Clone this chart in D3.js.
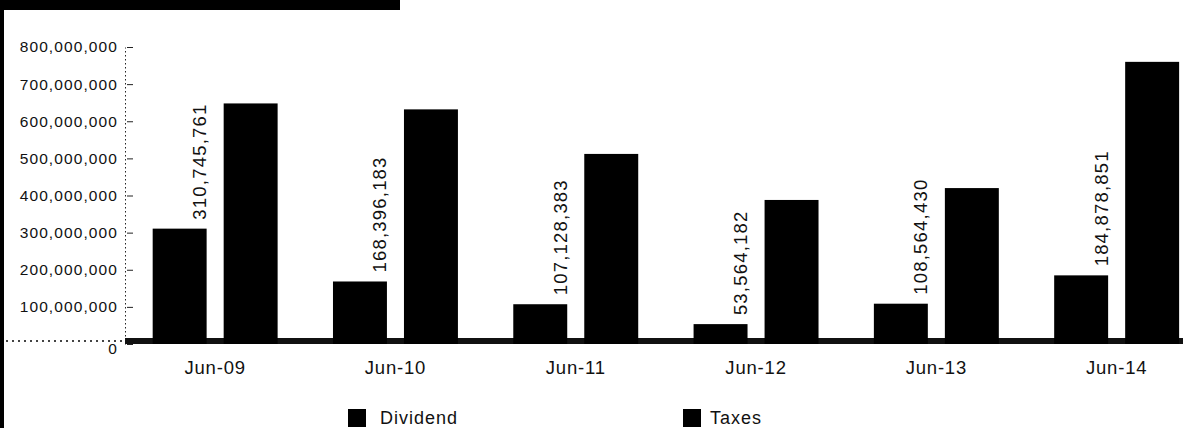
<!DOCTYPE html>
<html>
<head>
<meta charset="utf-8">
<script src="https://cdn.jsdelivr.net/npm/d3@7"></script>
<style>
  body { margin: 0; background: #fff; }
  svg { display: block; font-family: "Liberation Sans", Arial, sans-serif; }
</style>
</head>
<body>
<svg></svg>
<script>
var categories = ["Jun-09", "Jun-10", "Jun-11", "Jun-12", "Jun-13", "Jun-14"]
var series = ["Dividend", "Taxes"]
var dividend = [310745761, 168396183, 107128383, 53564182, 108564430, 184878851]
var taxes = [648000000, 632000000, 512000000, 388000000, 420000000, 760000000]
var yTicks = [0, 100000000, 200000000, 300000000, 400000000, 500000000, 600000000, 700000000, 800000000]

var screen = {width: 1183, height: 428}
var baseY = 344

var svg = d3.select("svg")
  .attr("width", screen.width)
  .attr("height", screen.height)

// scan frame bits
svg.append("rect").attr("x", 0).attr("y", 0).attr("width", 400).attr("height", 10).attr("fill", "#000")
svg.append("rect").attr("x", 0).attr("y", 0).attr("width", 4).attr("height", screen.height).attr("fill", "#000")

var x0 = d3.scaleBand()
  .domain(categories)
  .range([125, 125 + 6 * 180.3])
  .paddingInner(0.307)
  .paddingOuter(0.1535)

var x1 = d3.scaleBand()
  .domain(series)
  .range([0, x0.bandwidth()])
  .paddingInner(0.24)

var y = d3.scaleLinear()
  .domain([0, 800000000])
  .range([baseY, 47])

var fmt = d3.format(",")

// y axis, ticks pointing into the plot
var yAxis = svg.append("g")
  .attr("transform", "translate(125,0)")
  .call(d3.axisLeft(y).tickValues(yTicks).tickFormat(fmt).tickSizeInner(-8).tickSizeOuter(0).tickPadding(7))
yAxis.select(".domain").attr("stroke", "#222").attr("stroke-dasharray", "1.5,2.5")
yAxis.selectAll(".tick line").attr("stroke", "#222").attr("x1", 2)
yAxis.selectAll(".tick text")
  .attr("fill", "#111")
  .style("font-size", "15.5px")
  .style("letter-spacing", "1.1px")
yAxis.selectAll(".tick text").filter(function(d) { return d == 0 }).attr("dy", "0.6em")

// baseline band
svg.append("line")
  .attr("x1", 6).attr("x2", 125).attr("y1", baseY - 3).attr("y2", baseY - 3)
  .attr("stroke", "#444").attr("stroke-width", 2).attr("stroke-dasharray", "2,4")
svg.append("rect")
  .attr("x", 125).attr("y", baseY - 6)
  .attr("width", screen.width - 125).attr("height", 6)
  .attr("fill", "#111")

var rows = categories.map(function(c, i) {
  return {cat: c, vals: [{key: "Dividend", v: dividend[i]}, {key: "Taxes", v: taxes[i]}]}
})

var groups = svg.append("g").selectAll("g")
  .data(rows)
  .enter()
  .append("g")
  .attr("transform", function(d) { return "translate(" + x0(d.cat) + ",0)" })

groups.selectAll("rect")
  .data(function(d) { return d.vals })
  .enter()
  .append("rect")
  .attr("x", function(d) { return x1(d.key) })
  .attr("y", function(d) { return y(d.v) })
  .attr("width", x1.bandwidth())
  .attr("height", function(d) { return baseY - y(d.v) })
  .attr("fill", "#000")

// dividend value labels, rotated
groups.append("text")
  .attr("transform", function(d) {
    var bx = x1("Dividend") + x1.bandwidth() - 7
    var by = y(d.vals[0].v) - 9
    return "translate(" + bx + "," + by + ") rotate(-90)"
  })
  .attr("dy", "0.35em")
  .attr("text-anchor", "start")
  .attr("fill", "#111")
  .style("font-size", "18.5px")
  .style("letter-spacing", "1.2px")
  .text(function(d) { return fmt(d.vals[0].v) })

// category labels
var xAxis = svg.append("g")
  .attr("transform", "translate(0," + baseY + ")")
  .call(d3.axisBottom(x0).tickSize(0).tickPadding(17))
xAxis.select(".domain").remove()
xAxis.selectAll(".tick text")
  .attr("fill", "#111")
  .style("font-size", "18.5px")
  .style("letter-spacing", "0.8px")

// legend
var legendX = [348, 683]
var legend = svg.append("g").selectAll("g")
  .data(series)
  .enter()
  .append("g")
  .attr("transform", function(d, i) { return "translate(" + legendX[i] + ",409)" })
legend.append("rect")
  .attr("width", 18).attr("height", 18)
  .attr("fill", "#000")
legend.append("text")
  .attr("x", function(d, i) { return i == 0 ? 32 : 27 })
  .attr("y", 15)
  .attr("fill", "#111")
  .style("font-size", "18px")
  .style("letter-spacing", "1px")
  .text(function(d) { return d })
</script>
</body>
</html>
